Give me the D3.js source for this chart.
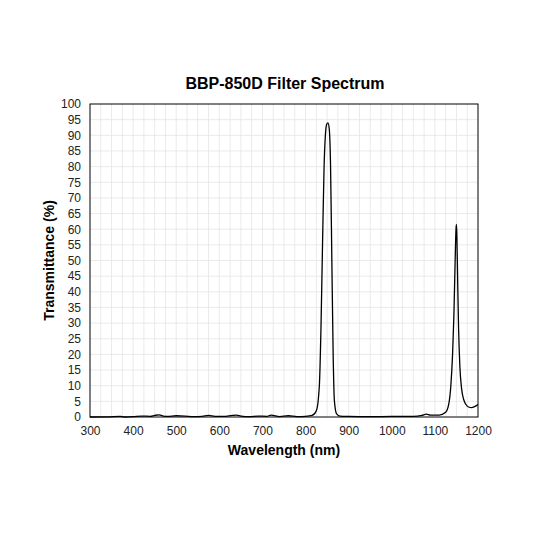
<!DOCTYPE html>
<html><head><meta charset="utf-8">
<script src="https://cdn.jsdelivr.net/npm/d3@7"></script>
<style>body{margin:0;background:#fff}svg{font-family:Arial,"Liberation Sans",sans-serif}</style>
</head><body><svg id="c" width="533" height="533"></svg>
<script>
const title = "BBP-850D Filter Spectrum";
const xTicks = [300,400,500,600,700,800,900,1000,1100,1200];
const yTicks = d3.range(0,101,5);
const wavelength = [300,340,370,380,400,420,440,450,460,470,480,500,520,540,560,575,590,610,630,640,650,670,690,710,720,740,760,780,800,815,825,832,836,840,843,846,849,852,855,858,861,864,867,872,880,900,950,1000,1050,1070,1080,1090,1110,1125,1132,1137,1141,1144,1147,1149,1150,1151,1153,1155,1158,1162,1167,1172,1178,1185,1192,1200];
const transmittance = [0,0.05,0.2,0,0.1,0.3,0.2,0.5,0.7,0.3,0.2,0.4,0.3,0.1,0.2,0.5,0.2,0.2,0.5,0.6,0.3,0.1,0.3,0.2,0.6,0.1,0.4,0.1,0.2,0.5,2,10,30,60,80,90,93.5,94,92,80,50,20,5,1,0.3,0.2,0.1,0.2,0.2,0.5,0.9,0.6,0.6,1.5,4,10,20,32,50,60,61.5,58,42,28,16,9,5.5,4,3.2,3,3.3,4];
const W=533,H=533,m={l:90,r:478,t:104,b:417};
const svg=d3.select("#c");
const x=d3.scaleLinear().domain([300,1200]).range([m.l,m.r]);
const y=d3.scaleLinear().domain([0,100]).range([m.b,m.t]);
const g=svg.append("g");
g.selectAll(".vg").data(d3.range(325,1200,25)).join("line").attr("x1",d=>x(d)).attr("x2",d=>x(d)).attr("y1",m.t).attr("y2",m.b).attr("stroke","#e4e4e4").attr("stroke-width",0.8);
g.selectAll(".hg").data(yTicks.slice(1,-1)).join("line").attr("y1",d=>y(d)).attr("y2",d=>y(d)).attr("x1",m.l).attr("x2",m.r).attr("stroke","#e4e4e4").attr("stroke-width",0.8);
svg.append("rect").attr("x",m.l).attr("y",m.t).attr("width",m.r-m.l).attr("height",m.b-m.t).attr("fill","none").attr("stroke","#000").attr("stroke-width",1);
const xa=svg.append("g").attr("transform",`translate(0,${m.b})`).call(d3.axisBottom(x).tickValues(xTicks).tickFormat(d3.format("d")).tickSize(0).tickPadding(9));
const ya=svg.append("g").attr("transform",`translate(${m.l},0)`).call(d3.axisLeft(y).tickValues(yTicks).tickFormat(d3.format("d")).tickSize(0).tickPadding(9));
[xa,ya].forEach(a=>{a.select(".domain").remove();a.selectAll("text").attr("font-size",12).attr("fill","#222").attr("font-family","Arial,'Liberation Sans',sans-serif");});
const line=d3.line().x((d,i)=>x(wavelength[i])).y(d=>y(d)).curve(d3.curveMonotoneX);
svg.append("path").datum(transmittance).attr("d",line).attr("fill","none").attr("stroke","#000").attr("stroke-width",1.3);
svg.append("text").attr("x",285).attr("y",89).attr("text-anchor","middle").attr("font-size",16).attr("font-weight","bold").text(title);
svg.append("text").attr("x",(m.l+m.r)/2).attr("y",455).attr("text-anchor","middle").attr("font-size",14).attr("font-weight","bold").text("Wavelength (nm)");
svg.append("text").attr("transform",`translate(54,${(m.t+m.b)/2}) rotate(-90)`).attr("text-anchor","middle").attr("font-size",14).attr("font-weight","bold").text("Transmittance (%)");
</script></body></html>
